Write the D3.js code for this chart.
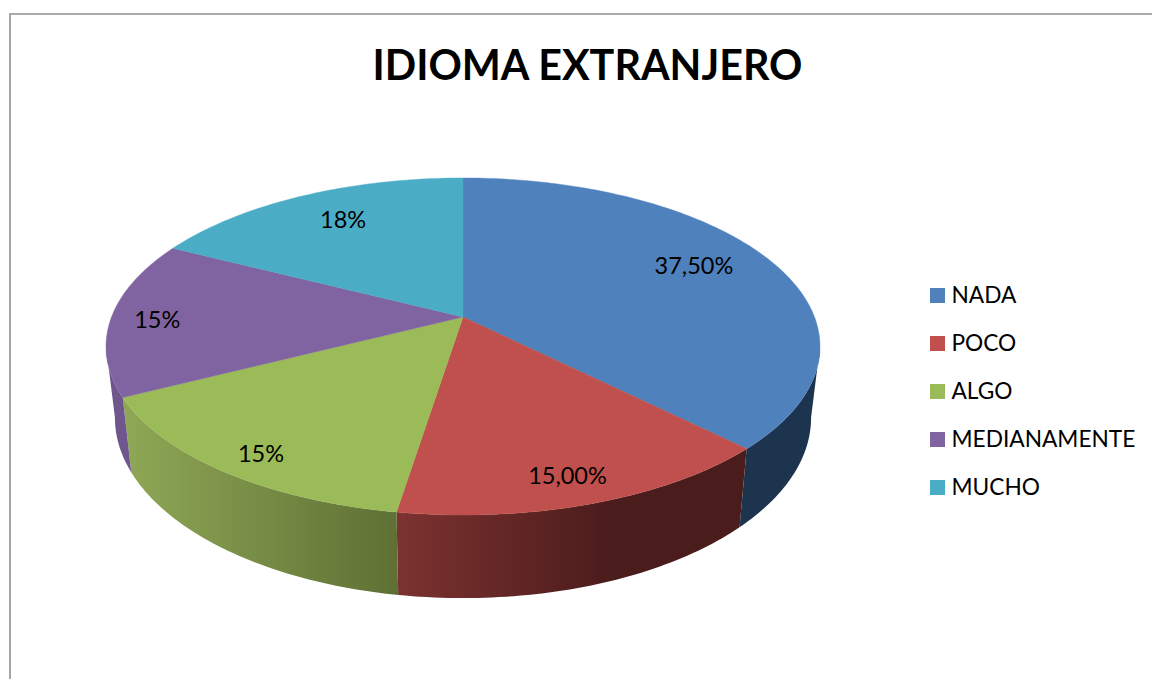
<!DOCTYPE html>
<html>
<head>
<meta charset="utf-8">
<script src="https://cdn.jsdelivr.net/npm/d3@7/dist/d3.min.js"></script>
<style>
html,body{margin:0;padding:0;background:#fff;overflow:hidden}
svg{display:block}
text{font-family:Lato,"Open Sans",sans-serif;fill:#000}
</style>
</head>
<body>
<svg id="c" width="1152" height="679"></svg>
<script>
const titleText = "IDIOMA EXTRANJERO";
const categories = ["NADA","POCO","ALGO","MEDIANAMENTE","MUCHO"];
const values = [37.5,15,15,15,17.5];
const valueLabels = ["37,50%","15,00%","15%","15%","18%"];
const colors = ["#4f81bd","#c0504d","#9bbb59","#8064a2","#4bacc6"];
const sideStart = ["#1d344f","#7c3230","#8fa856","#6f578e","#3a8aa0"];
const sideEnd = ["#1d344f","#4b1c1c","#5e7034","#6f578e","#3a8aa0"];

const W = 1152, H = 679;
const svg = d3.select("#c");

// perspective disc: apex (463,317), back edge y=178, front edge y=515, half width 357
const cx = 463, apexY = 317, persp = -0.175, yGain = 107.9, xGain = 351.5;
const project = (theta, r) => {
  const u = Math.sin(theta) * r, v = -Math.cos(theta) * r, w = 1 + persp * v;
  return [cx + xGain * u / w, (yGain * v + apexY) / w];
};
// bottom rim of the disc
const lower = p => [cx + 0.975 * (p[0] - cx), 1.07 * p[1] + 47];
const rad = d => d * Math.PI / 180;
const visFrom = rad(100), visTo = rad(260);

const slices = d3.pie().sort(null).value(d => d)(values);
const line = d3.line();
const arcPts = (a, b) => {
  const n = Math.max(2, Math.ceil((b - a) / rad(1)));
  return d3.range(n + 1).map(i => project(a + (b - a) * i / n, 1));
};

const defs = svg.append("defs");

// frame
svg.append("path").attr("d", `M10,${H}V14H${W}`).attr("fill","none").attr("stroke","#8f8f8f").attr("stroke-width",1.6);

// sides
const sideGroup = svg.append("g");
slices.forEach((s, i) => {
  const a = Math.max(s.startAngle, visFrom), b = Math.min(s.endAngle, visTo);
  if (b <= a) return;
  const top = arcPts(a, b), bottom = top.map(lower).reverse();
  const x0 = d3.min(top.concat(bottom), p => p[0]);
  const xs = i === 1 ? [397, 610] : [x0, d3.max(top.concat(bottom), p => p[0])];
  const g = defs.append("linearGradient").attr("id", "side" + i)
    .attr("gradientUnits", "userSpaceOnUse")
    .attr("x1", xs[0]).attr("x2", xs[1]).attr("y1", 0).attr("y2", 0);
  g.append("stop").attr("offset", 0).attr("stop-color", sideStart[i]);
  g.append("stop").attr("offset", 1).attr("stop-color", sideEnd[i]);
  sideGroup.append("path").attr("d", line(top.concat(bottom)) + "Z")
    .attr("fill", `url(#side${i})`);
});

// top faces
const apex = [cx, apexY];
svg.append("g").selectAll("path").data(slices).join("path")
  .attr("d", s => line([apex].concat(arcPts(s.startAngle, s.endAngle))) + "Z")
  .attr("fill", (s, i) => colors[i])
  .attr("stroke", (s, i) => colors[i]).attr("stroke-width", 0.4);

// value labels
const labelFrac = [0.75, 0.87, 0.87, 0.87, 0.75];
const labelDx = [-1,-6,3,0,4], labelDy = [-6,1,6,3,-3];
svg.append("g").selectAll("text").data(slices).join("text")
  .attr("x", (s, i) => project((s.startAngle + s.endAngle) / 2, labelFrac[i])[0] + labelDx[i])
  .attr("y", (s, i) => project((s.startAngle + s.endAngle) / 2, labelFrac[i])[1] + labelDy[i])
  .attr("dy", "0.33em").attr("text-anchor", "middle")
  .attr("font-size", 23.5)
  .text((s, i) => valueLabels[i]);

// title
svg.append("text").attr("x", 587.5).attr("y", 80).attr("text-anchor", "middle")
  .attr("font-size", 41.3).attr("font-weight", 700).text(titleText);

// legend
const legendY = d3.scalePoint().domain(categories).range([295.5, 487.5]);
const legend = svg.append("g").selectAll("g").data(categories).join("g")
  .attr("transform", d => `translate(930,${legendY(d)})`);
legend.append("rect").attr("x", 0).attr("y", -7.5).attr("width", 15).attr("height", 15)
  .attr("fill", (d, i) => colors[i]);
legend.append("text").attr("x", 21.5).attr("dy", "0.33em").attr("font-size", 22.7).text(d => d);
</script>
</body>
</html>
